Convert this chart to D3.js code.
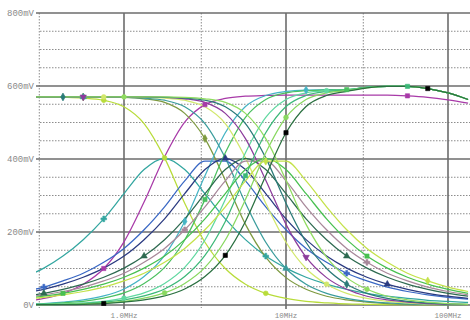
<!DOCTYPE html>
<html>
<head>
<meta charset="utf-8">
<script src="https://cdn.jsdelivr.net/npm/d3@7"></script>
<style>
  body { margin: 0; background: #fff; }
  svg text { font-family: "Liberation Mono", "DejaVu Sans Mono", monospace; fill: #8a8a8a; }
</style>
</head>
<body>
<div id="chart"></div>
<script>
// frequency grid (MHz), 1/8 decade steps
const freqMHz = [0.24, 0.32, 0.42, 0.56, 0.75, 1, 1.33, 1.78, 2.37, 3.16, 4.22, 5.62, 7.5, 10, 13.3, 17.8, 23.7, 31.6, 42.2, 56.2, 75, 100, 133];

// mV values, one array per trace (lp / bp / hp of each stage)
const lpA = [570, 570, 569, 567, 561, 543, 497, 403, 279, 172, 100, 57, 32, 18, 10, 6, 3, 2, 1, 1, 1, 1, 1];
const bpA = [76, 101, 134, 179, 236, 305, 371, 402, 371, 305, 236, 179, 134, 101, 76, 57, 43, 32, 24, 18, 13, 10, 7];
const hpA = [10, 18, 32, 57, 100, 173, 282, 406, 501, 549, 566, 572, 574, 575, 575, 575, 575, 575, 575, 573, 569, 562, 553];

const lpB = [570, 570, 570, 570, 570, 569, 565, 555, 525, 456, 342, 221, 131, 75, 43, 24, 14, 8, 4, 2, 1, 1, 1];
const bpB = [37, 49, 66, 87, 117, 155, 206, 269, 340, 394, 394, 340, 269, 206, 155, 117, 87, 66, 49, 37, 28, 21, 16];
const hpB = [2, 4, 8, 14, 25, 44, 78, 136, 229, 354, 472, 544, 574, 585, 589, 590, 590, 596, 599, 599, 593, 581, 563];

const lpC = [570, 570, 570, 570, 570, 569, 567, 561, 543, 497, 403, 279, 172, 100, 57, 32, 18, 10, 6, 3, 2, 1, 1];
const bpC = [32, 43, 57, 76, 101, 134, 179, 236, 305, 371, 402, 371, 305, 236, 179, 134, 101, 76, 57, 43, 32, 24, 18];
const hpC = [2, 3, 6, 10, 19, 33, 59, 103, 178, 289, 417, 514, 563, 581, 587, 589, 590, 596, 599, 599, 593, 581, 563];

const lpD = [570, 570, 570, 570, 570, 570, 569, 567, 561, 543, 497, 403, 279, 172, 100, 57, 32, 18, 10, 6, 3, 2, 1];
const bpD = [24, 32, 43, 57, 76, 101, 134, 179, 236, 305, 371, 402, 371, 305, 236, 179, 134, 101, 76, 57, 43, 32, 24];
const hpD = [1, 2, 3, 6, 10, 19, 33, 59, 103, 178, 289, 417, 514, 563, 581, 587, 589, 596, 599, 599, 593, 581, 563];

const lpE = [570, 570, 570, 570, 570, 570, 570, 569, 565, 555, 525, 456, 342, 221, 131, 75, 43, 24, 14, 8, 4, 2, 1];
const bpE = [21, 28, 37, 49, 66, 87, 117, 155, 206, 269, 340, 394, 394, 340, 269, 206, 155, 117, 87, 66, 49, 37, 28];
const hpE = [1, 1, 2, 4, 8, 14, 25, 44, 78, 136, 229, 354, 472, 544, 574, 585, 589, 596, 599, 599, 593, 581, 563];

const lpF = [570, 570, 570, 570, 570, 570, 570, 569, 567, 561, 543, 497, 403, 279, 172, 100, 57, 32, 18, 10, 6, 3, 2];
const bpF = [18, 24, 32, 43, 57, 76, 101, 134, 179, 236, 305, 371, 402, 371, 305, 236, 179, 134, 101, 76, 57, 43, 32];
const hpF = [1, 1, 2, 3, 6, 10, 19, 33, 59, 103, 178, 289, 417, 514, 563, 581, 587, 595, 599, 599, 593, 581, 563];

const lpG = [570, 570, 570, 570, 570, 570, 570, 570, 569, 565, 555, 525, 456, 342, 221, 131, 75, 43, 24, 14, 8, 4, 2];
const bpG = [16, 21, 28, 37, 49, 66, 87, 117, 155, 206, 269, 340, 394, 394, 340, 269, 206, 155, 117, 87, 66, 49, 37];
const hpG = [1, 1, 1, 2, 4, 8, 14, 25, 44, 78, 136, 229, 354, 472, 544, 574, 585, 595, 599, 599, 593, 581, 563];

const yTicks = [0, 200, 400, 600, 800];
const yTickLabels = ['0V', '200mV', '400mV', '600mV', '800mV'];
const xTicks = [1, 10, 100];
const xTickLabels = ['1.0MHz', '10MHz', '100MHz'];
const xMinor = [0.3, 3, 30];

const traces = [
  { values: lpA, color: '#b8dc3a', symbol: d3.symbolCircle, marks: [4, 7, 12] },
  { values: bpA, color: '#33a6a0', symbol: d3.symbolCross, marks: [4, 12] },
  { values: hpA, color: '#a83aa8', symbol: d3.symbolSquare, marks: [4, 9, 19] },
  { values: lpB, color: '#7e9a40', symbol: d3.symbolDiamond, marks: [3, 9] },
  { values: bpB, color: '#3a68c4', symbol: d3.symbolCross, marks: [1, 16] },
  { values: hpB, color: '#45b4c4', symbol: d3.symbolDiamond, marks: [8, 14] },
  { values: lpC, color: '#3a9c9c', symbol: d3.symbolTriangle, marks: [3, 13] },
  { values: bpC, color: '#2a3a80', symbol: d3.symbolTriangle, marks: [10, 18] },
  { values: hpC, color: '#4cc060', symbol: d3.symbolSquare, marks: [9, 16] },
  { values: lpD, color: '#d2e86c', symbol: d3.symbolCircle, marks: [4, 15] },
  { values: bpD, color: '#2e6a50', symbol: d3.symbolTriangle, marks: [1, 6, 16] },
  { values: hpD, color: '#60d8a0', symbol: d3.symbolCircle, marks: [5, 15] },
  { values: lpE, color: '#8c3c9c', symbol: d3.symbolTriangle, marks: [3, 14], rotate: 180 },
  { values: bpE, color: '#a8889a', symbol: d3.symbolCross, marks: [8, 17] },
  { values: hpE, color: '#3cb878', symbol: d3.symbolSquare, marks: [11, 19] },
  { values: lpF, color: '#2a7a78', symbol: d3.symbolDiamond, marks: [2, 16] },
  { values: bpF, color: '#48c050', symbol: d3.symbolSquare, marks: [2, 17] },
  { values: hpF, color: '#88d860', symbol: d3.symbolCircle, marks: [7, 13] },
  { values: lpG, color: '#90dc60', symbol: d3.symbolCircle, marks: [5, 17] },
  { values: bpG, color: '#c4e24a', symbol: d3.symbolDiamond, marks: [12, 20] },
  { values: hpG, color: '#2a7040', symbol: d3.symbolSquare, marks: [4, 10, 13, 20], markFill: '#000' },
];

const width = 470;
const height = 320;
const plot = { left: 36, right: 470, top: 13, bottom: 305 };

const x = d3.scaleLog().domain([1, 100]).range([124, 448]);
const y = d3.scaleLinear().domain([0, 800]).range([plot.bottom, plot.top]);

const svg = d3.select('#chart').append('svg')
  .attr('width', width)
  .attr('height', height);

svg.append('defs').append('clipPath').attr('id', 'clip')
  .append('rect')
  .attr('x', plot.left).attr('y', plot.top - 1)
  .attr('width', plot.right - plot.left)
  .attr('height', plot.bottom - plot.top + 2);

// dotted minor grid
const minorY = d3.range(50, 800, 50).filter((v) => v % 200 !== 0);
svg.append('g').selectAll('line').data(minorY).enter().append('line')
  .attr('x1', 40).attr('x2', plot.right)
  .attr('y1', (d) => y(d)).attr('y2', (d) => y(d))
  .attr('stroke', '#8c8c8c').attr('stroke-width', 1)
  .attr('stroke-dasharray', '1.5,1.5');

svg.append('g').selectAll('line').data(xMinor).enter().append('line')
  .attr('x1', (d) => x(d)).attr('x2', (d) => x(d))
  .attr('y1', plot.top).attr('y2', plot.bottom + 3)
  .attr('stroke', '#8c8c8c').attr('stroke-width', 1)
  .attr('stroke-dasharray', '1.5,1.5');

// solid major grid
svg.append('g').selectAll('line').data(yTicks).enter().append('line')
  .attr('x1', plot.left).attr('x2', plot.right)
  .attr('y1', (d) => y(d)).attr('y2', (d) => y(d))
  .attr('stroke', '#6c6c6c').attr('stroke-width', 1.6);

svg.append('g').selectAll('line').data(xTicks).enter().append('line')
  .attr('x1', (d) => x(d)).attr('x2', (d) => x(d))
  .attr('y1', plot.top).attr('y2', plot.bottom + 4)
  .attr('stroke', '#6c6c6c').attr('stroke-width', 1.6);

// tick labels
svg.append('g').selectAll('text').data(yTicks).enter().append('text')
  .attr('x', plot.left - 2)
  .attr('y', (d) => y(d) + 3)
  .attr('text-anchor', 'end')
  .style('font-size', '9px')
  .text((d, i) => yTickLabels[i]);

svg.append('g').selectAll('text').data(xTicks).enter().append('text')
  .attr('x', (d) => x(d))
  .attr('y', 318)
  .attr('text-anchor', 'middle')
  .style('font-size', '7.5px')
  .text((d, i) => xTickLabels[i]);

// traces
const line = d3.line()
  .x((d, i) => x(freqMHz[i]))
  .y((d) => y(d))
  .curve(d3.curveMonotoneX);

const plotArea = svg.append('g').attr('clip-path', 'url(#clip)');

plotArea.selectAll('.trace').data(traces).enter().append('path')
  .attr('class', 'trace')
  .attr('d', (d) => line(d.values))
  .attr('fill', 'none')
  .attr('stroke', (d) => d.color)
  .attr('stroke-width', 1.25);

// markers
traces.forEach((t) => {
  plotArea.selectAll(null).data(t.marks).enter().append('path')
    .attr('d', d3.symbol().type(t.symbol).size(18))
    .attr('transform', (i) => `translate(${x(freqMHz[i])},${y(t.values[i])}) rotate(${t.rotate || 0})`)
    .attr('fill', t.markFill || t.color)
    .attr('stroke', t.markFill || t.color)
    .attr('stroke-width', 0.6);
});
</script>
</body>
</html>
